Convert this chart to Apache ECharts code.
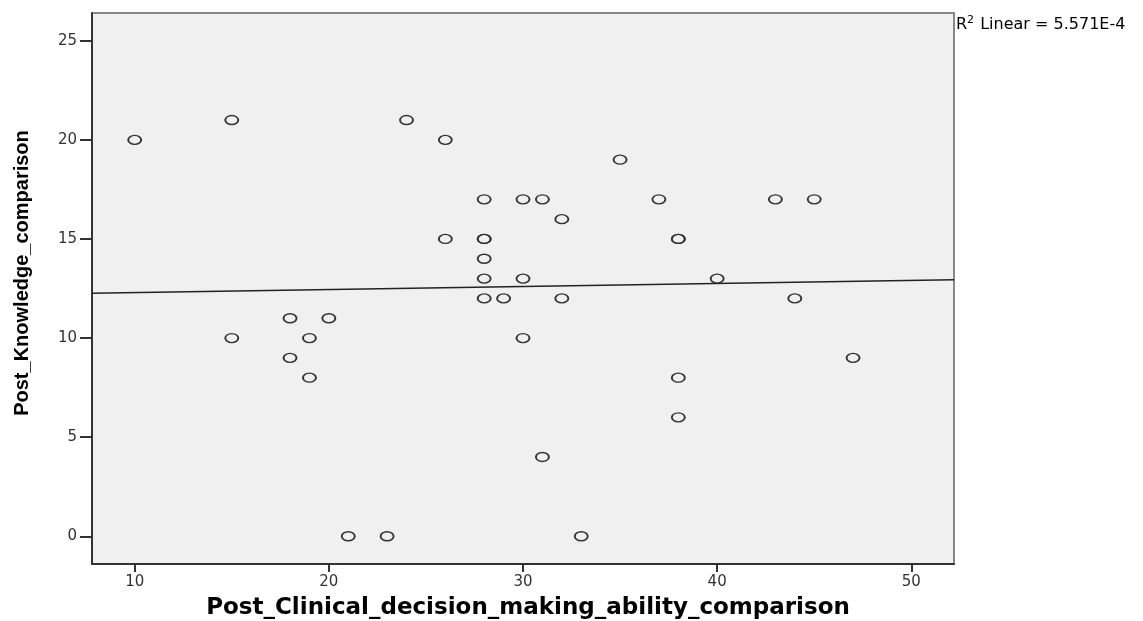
<!DOCTYPE html>
<html>
<head>
<meta charset="utf-8">
<script src="https://cdn.jsdelivr.net/npm/echarts@6/dist/echarts.min.js"></script>
<style>
html,body{margin:0;padding:0;background:#fff;}
#chart{width:1143px;height:621px;}
</style>
</head>
<body>
<div id="chart"></div>
<script>
// Data
const clinicalDecision = [10,15,15,18,18,19,19,20,21,23,24,26,26,28,28,28,28,28,28,29,30,30,30,31,31,32,32,33,35,37,38,38,38,38,40,43,44,45,47];
const knowledge        = [20,21,10,11, 9,10, 8,11, 0, 0,21,20,15,17,15,15,14,13,12,12,17,13,10,17, 4,16,12, 0,19,17,15,15, 8, 6,13,17,12,17, 9];
const xTicks = [10,20,30,40,50];
const yTicks = [0,5,10,15,20,25];
const xTitle = 'Post_Clinical_decision_making_ability_comparison';
const yTitle = 'Post_Knowledge_comparison';
const fitLabel = 'Linear = 5.571E-4';

const xMin = 7.8, xMax = 52.2, yMin = -1.4, yMax = 26.4;

// least squares fit line
const n = clinicalDecision.length;
const mx = clinicalDecision.reduce((a,b)=>a+b,0)/n;
const my = knowledge.reduce((a,b)=>a+b,0)/n;
let sxy = 0, sxx = 0;
for (let i=0;i<n;i++){ sxy += (clinicalDecision[i]-mx)*(knowledge[i]-my); sxx += (clinicalDecision[i]-mx)**2; }
const slope = sxy/sxx, icpt = my - slope*mx;
const fitLine = [[xMin, icpt+slope*xMin],[xMax, icpt+slope*xMax]];

const chart = echarts.init(document.getElementById('chart'));
const tickFont = 'DejaVu Sans';
chart.setOption({
  animation:false,
  backgroundColor:'#ffffff',
  grid:{left:92,right:189,top:13,bottom:57,show:true,backgroundColor:'#f0f0f0',borderColor:'#888',borderWidth:2},
  xAxis:{
    type:'value',min:xMin,max:xMax,
    axisLine:{show:true,onZero:false,lineStyle:{color:'#333',width:2}},
    axisTick:{show:true,length:8,customValues:xTicks,lineStyle:{color:'#333',width:2}},
    axisLabel:{customValues:xTicks,margin:11,color:'#333',fontFamily:tickFont,fontSize:15},
    splitLine:{show:false}
  },
  yAxis:{
    type:'value',min:yMin,max:yMax,
    axisLine:{show:true,onZero:false,lineStyle:{color:'#333',width:2}},
    axisTick:{show:true,length:12,customValues:yTicks,lineStyle:{color:'#333',width:2}},
    axisLabel:{customValues:yTicks,margin:15,color:'#333',fontFamily:tickFont,fontSize:15},
    splitLine:{show:false}
  },
  series:[
    {type:'line',data:fitLine,symbol:'none',silent:true,lineStyle:{color:'#222',width:1.5},z:2},
    {type:'scatter',data:clinicalDecision.map((x,i)=>[x,knowledge[i]]),symbol:'circle',symbolSize:[13,9],
     itemStyle:{color:'rgba(0,0,0,0)',borderColor:'#333',borderWidth:1.6,opacity:1},z:3}
  ],
  graphic:[
    {type:'text',x:528,y:608,style:{text:xTitle,font:'bold 23px "DejaVu Sans"',fill:'#000',align:'center',verticalAlign:'middle'}},
    {type:'text',x:22,y:273,rotation:Math.PI/2,style:{text:yTitle,font:'bold 20px "Liberation Sans"',fill:'#000',align:'center',verticalAlign:'middle'}},
    {type:'text',x:956,y:25,style:{rich:{sup:{fontSize:11,verticalAlign:'top',padding:[0,1,9,0],fontFamily:tickFont,fill:'#000'}},text:'R{sup|2} '+fitLabel,font:'16px "DejaVu Sans"',fill:'#000',verticalAlign:'middle'}}
  ]
});
</script>
</body>
</html>
